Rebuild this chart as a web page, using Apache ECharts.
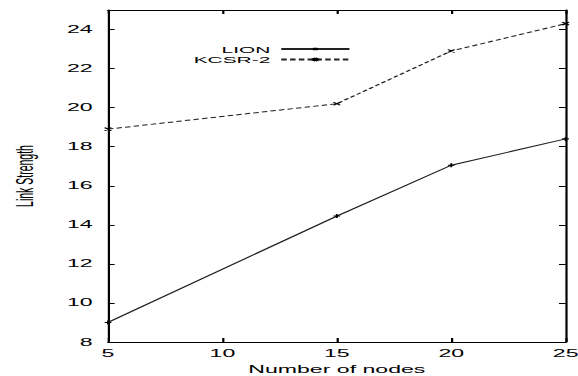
<!DOCTYPE html>
<html>
<head>
<meta charset="utf-8">
<script src="https://cdn.jsdelivr.net/npm/echarts@6/dist/echarts.min.js"></script>
<style>
  html, body { margin: 0; padding: 0; background: #fff; overflow: hidden; }
  /* the reference is a gnuplot figure stretched sideways, so draw narrow and stretch */
  #chart { width: 262.7px; height: 376px; transform: scaleX(2.2); transform-origin: 0 0; }
</style>
</head>
<body>
<div id="chart"></div>
<script>
const nodes = [5, 15, 20, 25]
const lion = [9.0, 14.45, 17.05, 18.4]
const kcsr = [18.9, 20.2, 22.9, 24.3]
const seriesNames = ['LION', 'KCSR-2']

const FONT = 'Liberation Sans'
const PLUS = 'path://M0,5L10,5M5,0L5,10'
const CROSS = 'path://M0,0L10,10M0,10L10,0'

const toPairs = ys => nodes.map((x, i) => [x, ys[i]])

const chart = echarts.init(document.getElementById('chart'), null, { renderer: 'svg' })

const baseX = {
  type: 'value',
  min: 5,
  max: 25,
  interval: 5,
  splitLine: { show: false },
  axisTick: { inside: true, length: 4, lineStyle: { color: '#000', width: 1 } },
}

const baseY = {
  type: 'value',
  min: 8,
  max: 25,
  interval: 2,
  splitLine: { show: false },
  axisTick: { inside: true, length: 3, lineStyle: { color: '#000', width: 1 } },
}

chart.setOption({
  animation: false,
  backgroundColor: '#fff',
  grid: { left: 49.1, right: 5.9, top: 10, bottom: 34, outerBoundsMode: 'none', containLabel: false },
  legend: {
    orient: 'vertical',
    align: 'right',
    left: 88,
    top: 44,
    padding: 0,
    itemWidth: 31,
    itemHeight: 3,
    itemGap: 0.5,
    textStyle: { fontFamily: FONT, fontSize: 9.5, color: '#000', lineHeight: 9.5 },
    data: seriesNames,
  },
  xAxis: [
    {
      ...baseX,
      position: 'bottom',
      name: 'Number of nodes',
      nameLocation: 'middle',
      nameGap: 18,
      nameTextStyle: { fontFamily: FONT, fontSize: 10.5, color: '#000' },
      axisLine: { lineStyle: { color: '#000', width: 1 } },
      axisLabel: { fontFamily: FONT, fontSize: 10.5, color: '#000', margin: 6 },
    },
    {
      ...baseX,
      position: 'top',
      axisLine: { lineStyle: { color: '#000', width: 1 } },
      axisLabel: { show: false },
    },
  ],
  yAxis: [
    {
      ...baseY,
      position: 'left',
      name: 'Link Strength',
      nameLocation: 'middle',
      nameGap: 32,
      nameTextStyle: { fontFamily: FONT, fontSize: 10.5, color: '#000' },
      axisLine: { show: true, lineStyle: { color: '#000', width: 1 } },
      axisLabel: { fontFamily: FONT, fontSize: 10.5, color: '#000', margin: 7, showMaxLabel: false },
    },
    {
      ...baseY,
      position: 'right',
      axisLine: { show: true, lineStyle: { color: '#000', width: 1 } },
      axisLabel: { show: false },
    },
  ],
  series: [
    {
      name: seriesNames[0],
      type: 'line',
      data: toPairs(lion),
      symbol: PLUS,
      symbolSize: [3, 4],
      lineStyle: { color: '#222', width: 1, type: 'solid' },
      itemStyle: { color: '#000', borderColor: '#000', borderWidth: 1 },
    },
    {
      name: seriesNames[1],
      type: 'line',
      data: toPairs(kcsr),
      symbol: CROSS,
      symbolSize: [3, 3],
      lineStyle: { color: '#222', width: 1, type: [2.5, 1.5] },
      itemStyle: { color: '#000', borderColor: '#000', borderWidth: 1 },
    },
  ],
})
</script>
</body>
</html>
